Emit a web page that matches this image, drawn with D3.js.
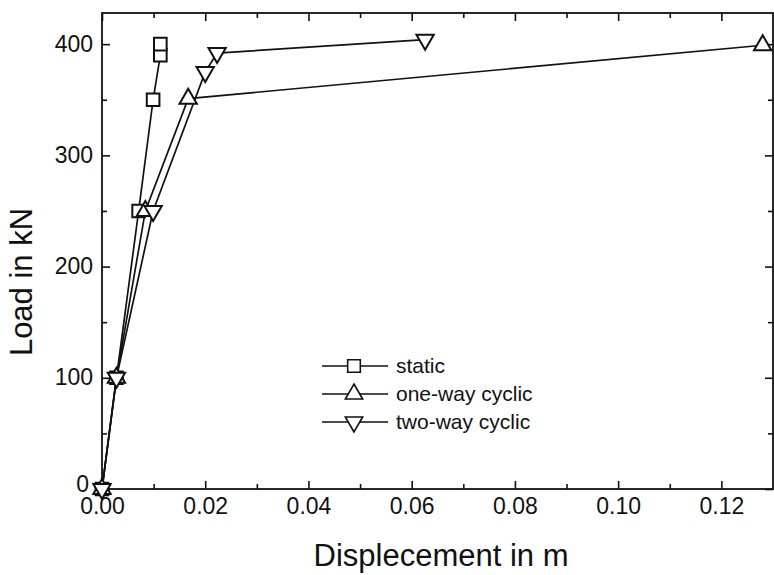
<!DOCTYPE html>
<html>
<head>
<meta charset="utf-8">
<script src="https://cdn.jsdelivr.net/npm/d3@7"></script>
<style>
	body { margin: 0; background: #fff; }
	text { font-family: "Liberation Sans", Arial, sans-serif; fill: #111; }
</style>
</head>
<body>
<div id="chart"></div>
<script>
// data
const staticDisp = [0, 0.0028, 0.0071, 0.0099, 0.0113, 0.0113]
const staticLoad = [0, 100, 250, 350, 390, 400]
const oneWayDisp = [0, 0.0028, 0.0084, 0.0167, 0.128]
const oneWayLoad = [0, 100, 250, 351, 399]
const twoWayDisp = [0, 0.0028, 0.0099, 0.0200, 0.0223, 0.0626]
const twoWayLoad = [0, 100, 250, 375, 392, 404]
const seriesNames = ['static', 'one-way cyclic', 'two-way cyclic']
const xTicks = [0, 0.02, 0.04, 0.06, 0.08, 0.10, 0.12]
const yTicks = [0, 100, 200, 300, 400]

const series = [
	{ name: seriesNames[0], sym: 'square', pts: staticDisp.map((d, i) => [d, staticLoad[i]]) },
	{ name: seriesNames[1], sym: 'up', pts: oneWayDisp.map((d, i) => [d, oneWayLoad[i]]) },
	{ name: seriesNames[2], sym: 'down', pts: twoWayDisp.map((d, i) => [d, twoWayLoad[i]]) }
]

const W = 774, H = 575
const plotLeft = 102, plotRight = 773, plotTop = 13, plotBottom = 489

const svg = d3.select('#chart')
	.append('svg')
	.attr('width', W)
	.attr('height', H)
	.style('background', '#fff')

const x = d3.scaleLinear().domain([0, 0.13]).range([plotLeft, plotRight])
const y = d3.scaleLinear().domain([0, 428]).range([plotBottom, plotTop])

// frame
svg.append('rect')
	.attr('x', plotLeft).attr('y', plotTop)
	.attr('width', plotRight - plotLeft).attr('height', plotBottom - plotTop)
	.attr('fill', 'none').attr('stroke', '#111').attr('stroke-width', 1.8)

const xMinor = d3.range(0.01, 0.13, 0.02)
const yMinor = d3.range(50, 428, 100)

// bottom and top ticks
const bottomAxis = svg.append('g').attr('transform', `translate(0,${plotBottom})`)
bottomAxis.call(d3.axisBottom(x).tickValues(xTicks).tickSize(-8).tickFormat(d3.format('.2f')))
svg.append('g').attr('transform', `translate(0,${plotBottom})`)
	.call(d3.axisBottom(x).tickValues(xMinor).tickSize(-5).tickFormat(''))
svg.append('g').attr('transform', `translate(0,${plotTop})`)
	.call(d3.axisTop(x).tickValues(xTicks).tickSize(-8).tickFormat(''))
svg.append('g').attr('transform', `translate(0,${plotTop})`)
	.call(d3.axisTop(x).tickValues(xMinor).tickSize(-5).tickFormat(''))

// left and right ticks
const leftAxis = svg.append('g').attr('transform', `translate(${plotLeft},0)`)
leftAxis.call(d3.axisLeft(y).tickValues(yTicks).tickSize(-8))
svg.append('g').attr('transform', `translate(${plotLeft},0)`)
	.call(d3.axisLeft(y).tickValues(yMinor).tickSize(-5).tickFormat(''))
svg.append('g').attr('transform', `translate(${plotRight},0)`)
	.call(d3.axisRight(y).tickValues(yTicks).tickSize(-8).tickFormat(''))
svg.append('g').attr('transform', `translate(${plotRight},0)`)
	.call(d3.axisRight(y).tickValues(yMinor).tickSize(-5).tickFormat(''))

svg.selectAll('.domain').remove()
svg.selectAll('.tick line').attr('stroke', '#111').attr('stroke-width', 1.6)

bottomAxis.selectAll('.tick text')
	.attr('y', 9)
	.attr('dy', '0.71em')
	.style('font-size', '23px')
leftAxis.selectAll('.tick text')
	.attr('x', -9)
	.attr('dy', '0.3em')
	.style('font-size', '23px')
// the 0 label sits a little higher so it clears 0.00
leftAxis.selectAll('.tick text').filter(d => d === 0)
	.attr('dy', '0.1em')
	.attr('x', -13)

// axis titles
svg.append('text')
	.attr('x', 441).attr('y', 566)
	.attr('text-anchor', 'middle')
	.style('font-size', '31px')
	.text('Displecement in m')

svg.append('text')
	.attr('transform', 'translate(32,282) rotate(-90)')
	.attr('text-anchor', 'middle')
	.style('font-size', '31px')
	.text('Load in kN')

// markers
function marker(sel, sym) {
	if (sym === 'square') {
		sel.attr('d', d3.symbol(d3.symbolSquare, 160))
	} else {
		sel.attr('d', d3.symbol(d3.symbolTriangle, 130))
	}
}

const line = d3.line().x(d => x(d[0])).y(d => y(d[1]))

series.forEach(s => {
	svg.append('path')
		.datum(s.pts)
		.attr('d', line)
		.attr('fill', 'none')
		.attr('stroke', '#111')
		.attr('stroke-width', 1.7)
})

series.forEach(s => {
	svg.selectAll(null)
		.data(s.pts)
		.enter()
		.append('path')
		.call(marker, s.sym)
		.attr('transform', d => `translate(${x(d[0])},${y(d[1])})` + (s.sym === 'down' ? ' rotate(180)' : ''))
		.attr('fill', '#fff')
		.attr('stroke', '#111')
		.attr('stroke-width', 2)
})

// legend
const legend = svg.append('g').attr('transform', 'translate(322,366)')
series.forEach((s, i) => {
	const g = legend.append('g').attr('transform', `translate(0,${i * 28})`)
	g.append('line').attr('x1', 0).attr('x2', 66).attr('y1', 0).attr('y2', 0)
		.attr('stroke', '#111').attr('stroke-width', 1.5)
	g.append('path')
		.call(marker, s.sym)
		.attr('transform', `translate(32,0)` + (s.sym === 'down' ? ' rotate(180)' : ''))
		.attr('fill', '#fff')
		.attr('stroke', '#111')
		.attr('stroke-width', 1.6)
	g.append('text')
		.attr('x', 74).attr('y', 0)
		.attr('dy', '0.35em')
		.style('font-size', '21px')
		.text(s.name)
})
</script>
</body>
</html>
